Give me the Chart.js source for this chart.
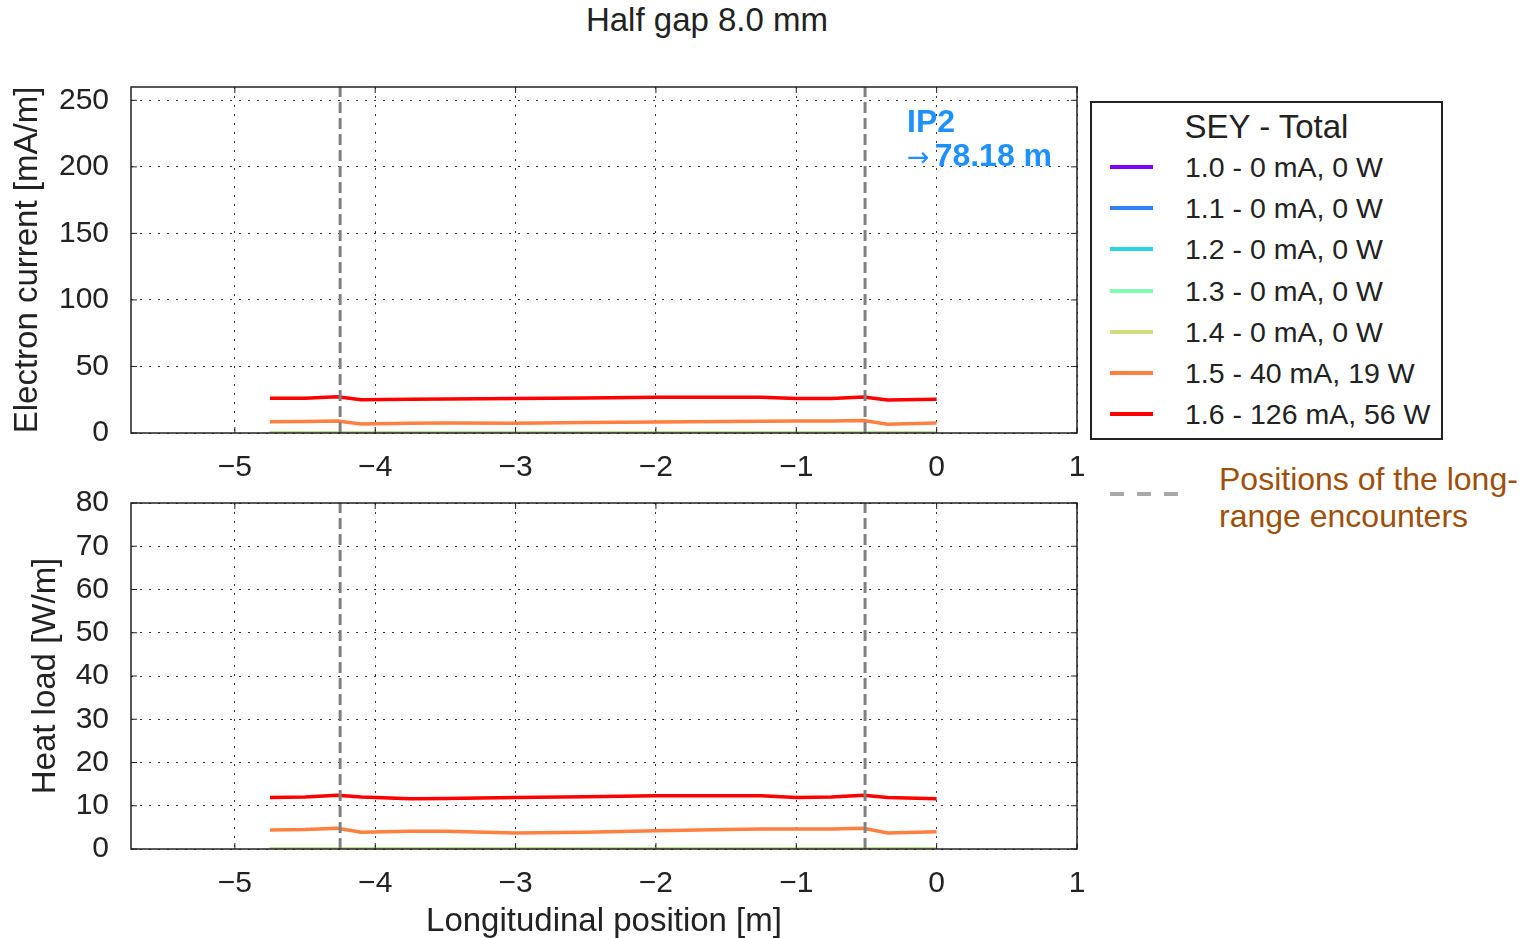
<!DOCTYPE html>
<html>
<head>
<meta charset="utf-8">
<script src="https://cdn.jsdelivr.net/npm/chart.js@4.4.1/dist/chart.umd.min.js"></script>
<style>
  body { margin: 0; background: #fff; font-family: 'Liberation Sans', Arial, sans-serif; color: #222; }
  #page { position: relative; width: 1526px; height: 938px; overflow: hidden; }
  canvas { position: absolute; left: 0; }
  #title { position: absolute; left: 0; width: 1414px; top: 2px; line-height: 36px; text-align: center; font-size: 33px; }
  #ip2 { position: absolute; left: 907px; top: 104px; line-height: 34px; font-size: 32px; font-weight: bold; color: #1e90ff; }
  #ip2 .arr { font-family: 'DejaVu Sans', sans-serif; font-size: 27px; font-weight: normal; margin-right: 5px; }
  #legend { position: absolute; left: 1090px; top: 101px; width: 353px; height: 339px; box-sizing: border-box; border: 2px solid #222; }
  #legend .ttl { position: absolute; left: 0; right: 0; top: 6px; line-height: 36px; text-align: center; font-size: 33px; }
  #legend .swatch { position: absolute; left: 18px; width: 43px; height: 4px; }
  #legend .lbl { position: absolute; left: 93px; line-height: 34px; font-size: 28.5px; white-space: nowrap; }
  .dash { position: absolute; top: 492px; width: 14px; height: 4px; background: #a8a8a8; }
  #lrtext { position: absolute; left: 1219px; top: 461px; line-height: 37px; font-size: 32px; color: #9e4f0a; }
</style>
</head>
<body>
<div id="page">
  <div id="title">Half gap 8.0 mm</div>
  <canvas id="current" width="1090" height="440" style="top:40px"></canvas>
  <canvas id="heat" width="1090" height="458" style="top:480px"></canvas>
  <div id="ip2">IP2<br><span class="arr">&#8594;</span>78.18 m</div>
  <div id="legend"><div class="ttl">SEY - Total</div></div>
  <div class="dash" style="left:1110px"></div>
  <div class="dash" style="left:1137px"></div>
  <div class="dash" style="left:1164px"></div>
  <div id="lrtext">Positions of the long-<br>range encounters</div>
</div>
<script>
// longitudinal positions of the samples [m]
const positions = [-4.75, -4.5, -4.27, -4.1, -3.75, -3.5, -3.0, -2.5, -2.0, -1.5, -1.25, -1.0, -0.75, -0.52, -0.35, 0];

// electron current [mA/m]
const currentSey15 = [8.5, 8.6, 9.0, 6.8, 7.3, 7.5, 7.3, 7.8, 8.3, 8.7, 8.9, 9.0, 9.0, 9.3, 6.6, 7.5];
const currentSey16 = [26.1, 26.2, 27.2, 25.0, 25.3, 25.6, 25.9, 26.3, 26.8, 26.9, 26.8, 25.9, 25.9, 27.0, 24.8, 25.4];

// heat load [W/m]
const heatSey15 = [4.4, 4.5, 4.8, 3.9, 4.1, 4.1, 3.7, 3.9, 4.2, 4.5, 4.6, 4.6, 4.6, 4.8, 3.7, 4.0];
const heatSey16 = [11.9, 12.0, 12.4, 12.0, 11.6, 11.7, 11.9, 12.1, 12.3, 12.3, 12.3, 11.9, 12.0, 12.4, 11.9, 11.6];

// SEY 1.0 - 1.4 give no electron cloud
const zeroSeries = [0, 0, 0, 0, 0, 0, 0, 0, 0, 0, 0, 0, 0, 0, 0, 0];

const seriesLabels = ['1.0 - 0 mA, 0 W', '1.1 - 0 mA, 0 W', '1.2 - 0 mA, 0 W', '1.3 - 0 mA, 0 W',
                      '1.4 - 0 mA, 0 W', '1.5 - 40 mA, 19 W', '1.6 - 126 mA, 56 W'];
const seriesColors = ['#8000ff', '#3380f2', '#2ad4e0', '#80ffb4', '#d4dd80', '#ff8040', '#ff0000'];

// long-range encounter positions [m]
const encounters = [-4.25, -0.51];

const xTicks = [-5, -4, -3, -2, -1, 0, 1];
const currentTicks = [0, 50, 100, 150, 200, 250];
const heatTicks = [0, 10, 20, 30, 40, 50, 60, 70, 80];

Chart.defaults.font.family = "'Liberation Sans', Arial, sans-serif";
Chart.defaults.color = '#222';

// legend box
const legendBox = document.getElementById('legend');
seriesLabels.forEach((label, i) => {
    const y = 64 + 41.2 * i;
    const sw = document.createElement('div');
    sw.className = 'swatch';
    sw.style.top = (y - 2) + 'px';
    sw.style.background = seriesColors[i];
    legendBox.appendChild(sw);
    const t = document.createElement('div');
    t.className = 'lbl';
    t.style.top = (y - 17) + 'px';
    t.textContent = label;
    legendBox.appendChild(t);
});

const minus = v => (v < 0 ? '\u2212' + Math.abs(v) : String(v));

const framePlugin = {
    id: 'frame',
    afterDatasetsDraw(chart) {
        const { ctx, chartArea: a, scales } = chart;
        ctx.save();
        ctx.strokeStyle = '#222';
        ctx.lineWidth = 1;
        ctx.beginPath();
        scales.x.ticks.forEach(t => {
            const px = scales.x.getPixelForValue(t.value);
            ctx.moveTo(px, a.bottom); ctx.lineTo(px, a.bottom - 6);
            ctx.moveTo(px, a.top); ctx.lineTo(px, a.top + 6);
        });
        scales.y.ticks.forEach(t => {
            const py = scales.y.getPixelForValue(t.value);
            ctx.moveTo(a.left, py); ctx.lineTo(a.left + 6, py);
            ctx.moveTo(a.right, py); ctx.lineTo(a.right - 6, py);
        });
        ctx.stroke();
        ctx.lineWidth = 1.5;
        ctx.strokeRect(a.left, a.top, a.right - a.left, a.bottom - a.top);
        ctx.restore();
    }
};

function buildChart(id, values, yMax, yTicks, yTitle, yTitlePad, xTitle, xAxisHeight, padTop) {
    const datasets = values.map((vals, i) => ({
        label: seriesLabels[i],
        data: positions.map((x, j) => ({ x: x, y: vals[j] })),
        borderColor: seriesColors[i],
        borderWidth: 3.5,
        pointRadius: 0,
        order: 10 - i
    }));
    encounters.forEach(x => {
        datasets.push({
            label: 'long-range',
            data: [{ x: x, y: 0 }, { x: x, y: yMax }],
            borderColor: '#808080',
            borderWidth: 3,
            borderDash: [11, 5],
            pointRadius: 0,
            order: 0
        });
    });

    return new Chart(document.getElementById(id), {
        type: 'line',
        data: { datasets },
        options: {
            responsive: false,
            animation: false,
            layout: { padding: { top: padTop, right: 13, left: 0, bottom: 0 } },
            plugins: { legend: { display: false }, tooltip: { enabled: false } },
            scales: {
                x: {
                    type: 'linear',
                    min: -5.74,
                    max: 1,
                    afterBuildTicks: s => { s.ticks = xTicks.map(v => ({ value: v })); },
                    afterFit: s => { s.height = xAxisHeight; s.paddingLeft = 0; s.paddingRight = 0; },
                    ticks: { padding: 17, font: { size: 30 }, callback: minus },
                    grid: { color: '#333', lineWidth: 1, drawTicks: false },
                    border: { display: false, dash: [2, 7] },
                    title: { display: !!xTitle, text: xTitle, font: { size: 33, lineHeight: 1 }, padding: { top: 0, bottom: 0 } }
                },
                y: {
                    min: 0,
                    max: yMax,
                    afterBuildTicks: s => { s.ticks = yTicks.map(v => ({ value: v })); },
                    afterFit: s => { s.width = 131; s.paddingTop = 0; s.paddingBottom = 0; },
                    ticks: { padding: 22, font: { size: 30 } },
                    grid: { color: '#333', lineWidth: 1, drawTicks: false },
                    border: { display: false, dash: [2, 7] },
                    title: { display: true, text: yTitle, font: { size: 33 }, padding: { top: yTitlePad, bottom: 0 } }
                }
            }
        },
        plugins: [framePlugin]
    });
}

buildChart('current',
    [zeroSeries, zeroSeries, zeroSeries, zeroSeries, zeroSeries, currentSey15, currentSey16],
    260, currentTicks, 'Electron current [mA/m]', 8, '', 47, 47);

buildChart('heat',
    [zeroSeries, zeroSeries, zeroSeries, zeroSeries, zeroSeries, heatSey15, heatSey16],
    80, heatTicks, 'Heat load [W/m]', 26, 'Longitudinal position [m]', 89, 23);
</script>
</body>
</html>
